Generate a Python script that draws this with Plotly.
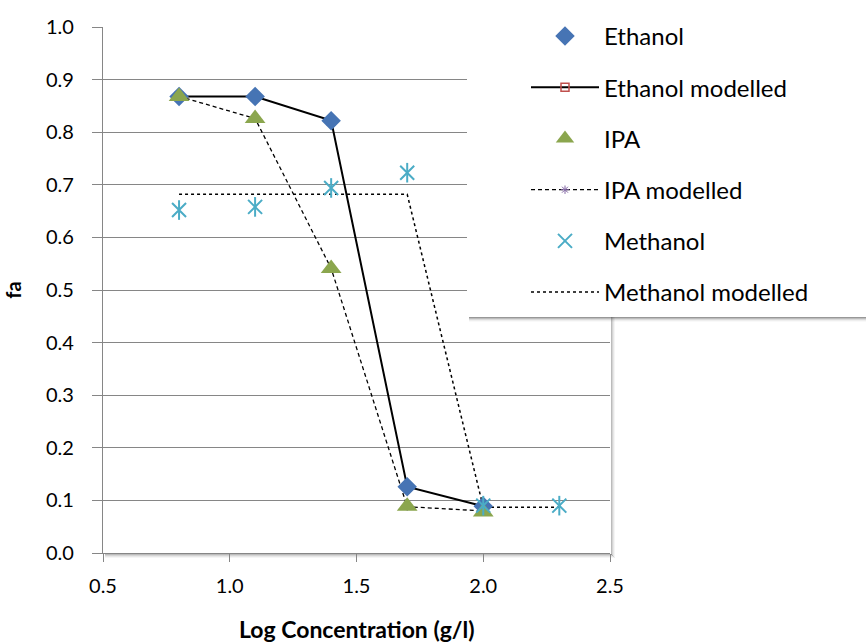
import plotly.graph_objects as go

# Log concentration (g/l) for each measured point
log_conc = [0.8, 1.1, 1.4, 1.7, 2.0]
log_conc_meoh = [0.8, 1.1, 1.4, 1.7, 2.0, 2.3]

# Measured fraction affected
ethanol = [0.868, 0.868, 0.822, 0.126, 0.089]
ipa = [0.868, 0.826, 0.541, 0.089, 0.078]
methanol = [0.652, 0.658, 0.694, 0.723, 0.090, 0.090]

# Model fits
ethanol_model = [0.868, 0.868, 0.822, 0.126, 0.089]
ipa_model = [0.868, 0.826, 0.541, 0.088, 0.080]
methanol_model = [0.682, 0.682, 0.682, 0.682, 0.087, 0.087]

y_ticks = [0.0, 0.1, 0.2, 0.3, 0.4, 0.5, 0.6, 0.7, 0.8, 0.9, 1.0]
x_ticks = [0.5, 1.0, 1.5, 2.0, 2.5]

FONT = "Lato"
W, H = 866, 644
ML, MR, MT, MB = 103, 256, 27, 91
PW, PH = W - ML - MR, H - MT - MB


def px_x(p):
    return (p - ML) / PW


def px_y(p):
    return (H - MB - p) / PH


fig = go.Figure()

# modelled curves (drawn underneath the measured markers)
fig.add_trace(go.Scatter(
    x=log_conc, y=ethanol_model, name="Ethanol modelled", mode="lines+markers",
    line=dict(color="black", width=2),
    marker=dict(symbol="square-open", size=8, color="#C0504D", line=dict(width=1.5)),
    legendgroup="b", legendrank=2))
fig.add_trace(go.Scatter(
    x=log_conc, y=ipa_model, name="IPA modelled", mode="lines+markers",
    line=dict(color="black", width=1.3, dash="4px,3px"),
    marker=dict(symbol="asterisk-open", size=7, color="#8064A2", line=dict(width=1, color="#8064A2")),
    legendgroup="d", legendrank=4))
fig.add_trace(go.Scatter(
    x=log_conc_meoh, y=methanol_model, name="Methanol modelled", mode="lines",
    line=dict(color="black", width=1.5, dash="dot"),
    legendgroup="f", legendrank=6))

# measured points
fig.add_trace(go.Scatter(
    x=log_conc, y=ethanol, name="Ethanol", mode="markers",
    marker=dict(symbol="diamond", size=15, color="#4674B4"),
    legendgroup="a", legendrank=1))
fig.add_trace(go.Scatter(
    x=log_conc, y=ipa, name="IPA", mode="markers",
    marker=dict(symbol="triangle-up", size=18, color="#8BA64E"),
    legendgroup="c", legendrank=3))
fig.add_trace(go.Scatter(
    x=log_conc_meoh, y=methanol, name="Methanol", mode="markers",
    marker=dict(symbol="x-thin-open", size=14, color="#4BACC6",
                line=dict(width=2, color="#4BACC6")),
    legendgroup="e", legendrank=5))
fig.add_trace(go.Scatter(
    x=log_conc_meoh, y=methanol, mode="markers", showlegend=False,
    marker=dict(symbol="line-ns-open", size=14, color="#4BACC6",
                line=dict(width=2, color="#4BACC6")),
    hoverinfo="skip"))

shapes = []
# soft shadow along the bottom and right edges of the plot area
for i, op in enumerate([0.35, 0.22, 0.12, 0.05]):
    yy = px_y(H - MB + 1.5 + i)
    shapes.append(dict(type="line", xref="paper", yref="paper",
                       x0=px_x(ML + 2), x1=px_x(ML + PW + 2 + i), y0=yy, y1=yy,
                       line=dict(color=f"rgba(60,60,60,{op})", width=1), layer="below"))
    xx = px_x(ML + PW + 1.5 + i)
    shapes.append(dict(type="line", xref="paper", yref="paper",
                       x0=xx, x1=xx, y0=px_y(MT + 3), y1=px_y(H - MB + 2 + i),
                       line=dict(color=f"rgba(60,60,60,{op})", width=1), layer="below"))

# legend panel with drop shadow
LX0, LX1, LY0, LY1 = 467, 920, 10, 317
for i, op in enumerate([0.30, 0.20, 0.12, 0.06, 0.03]):
    shapes.append(dict(type="rect", xref="paper", yref="paper",
                       x0=px_x(LX0 + 2), x1=px_x(LX1),
                       y0=px_y(LY1 + 1 + i), y1=px_y(LY1),
                       line=dict(width=0), fillcolor=f"rgba(70,70,70,{op})", layer="above"))
shapes.append(dict(type="rect", xref="paper", yref="paper",
                   x0=px_x(LX0), x1=px_x(LX1), y0=px_y(LY1), y1=px_y(LY0),
                   line=dict(width=0), fillcolor="white", layer="above"))

fig.update_layout(
    width=W, height=H, autosize=False,
    margin=dict(l=ML, r=MR, t=MT, b=MB, pad=0),
    paper_bgcolor="white", plot_bgcolor="white",
    font=dict(family=FONT, size=20, color="black"),
    shapes=shapes,
    annotations=[dict(
        text="<b>Log Concentration (g/l)</b>", xref="paper", yref="paper",
        x=0.5, y=px_y(629), xanchor="center", yanchor="middle", showarrow=False,
        font=dict(family=FONT, size=23, color="black"))],
    showlegend=True,
    legend=dict(
        x=px_x(526), y=px_y(14), xanchor="left", yanchor="top",
        bgcolor="rgba(0,0,0,0)", borderwidth=0,
        font=dict(family=FONT, size=24, color="black"),
        tracegroupgap=17, itemwidth=68, traceorder="grouped",
    ),
    xaxis=dict(
        range=[0.5, 2.5], tickvals=x_ticks, ticktext=[f"{v:.1f}" for v in x_ticks],
        showgrid=False, zeroline=False,
        showline=True, linecolor="#868686", linewidth=1.3,
        ticks="outside", ticklen=8, tickcolor="#868686", tickwidth=1.3,
        ticklabelstandoff=7,
        tickfont=dict(family=FONT, size=20),
    ),
    yaxis=dict(
        range=[0, 1.0], tickvals=y_ticks, ticktext=[f"{v:.1f}" for v in y_ticks],
        showgrid=True, gridcolor="#868686", gridwidth=1.3, zeroline=False,
        showline=True, linecolor="#868686", linewidth=1.3,
        ticks="outside", ticklen=10, tickcolor="#868686", tickwidth=1.3,
        ticklabelstandoff=14,
        tickfont=dict(family=FONT, size=20),
        title=dict(text="<b>fa</b>", font=dict(family=FONT, size=20), standoff=18),
    ),
)

fig.write_html("out.html")
